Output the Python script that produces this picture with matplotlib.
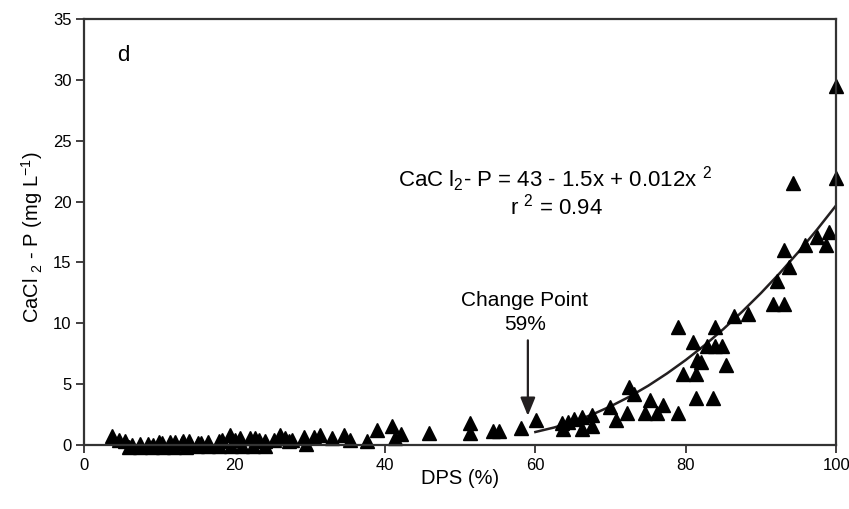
import matplotlib
matplotlib.use("Agg")
import matplotlib.pyplot as plt

plt.rcParams['font.family'] = ['Liberation Sans', 'DejaVu Sans']
plt.rcParams['mathtext.default'] = 'regular'

# Observed data (DPS %, CaCl2-P mg/L)
dps = [3.7, 4.6, 5.4, 6.4, 7.4, 8.5, 9.1, 9.9, 10.4, 11.4, 12.1, 13.0,
       13.2, 13.9, 15.2, 15.6, 16.5, 17.9, 18.3, 19.4, 20.1, 20.7, 22.1, 22.7,
       23.2, 24.1, 25.2, 26.1, 26.7, 27.2,
       6.0, 7.5, 9.0, 10.5, 12.0, 13.5, 15.0, 16.5, 18.0, 19.5, 21.0, 22.5, 24.0,
       27.6, 29.2, 29.5, 30.6, 31.4, 32.9, 34.6, 35.3, 37.6, 39.0, 40.9, 41.4,
       42.2, 45.8, 51.3, 51.3, 54.4, 55.2, 58.1, 60.1,
       63.5, 63.7, 64.4, 65.1, 66.2, 66.2, 67.5, 67.5, 69.9, 70.7, 72.2, 72.4,
       73.1, 74.6, 75.3, 76.2, 76.9, 78.9, 78.9, 79.6, 80.9, 81.3, 81.3, 81.5,
       82.0, 82.8, 83.6, 83.9, 83.9, 84.8, 85.3, 86.4, 88.3, 91.6, 92.1, 93.1,
       93.1, 93.7, 94.3, 95.9, 97.4, 98.7, 99.1, 99.9, 100.0]
cacl2_p = [0.70, 0.43, 0.37, 0.02, 0.05, 0.05, 0.00, 0.23, 0.15, 0.23, 0.23, 0.15,
           0.30, 0.34, 0.15, 0.15, 0.25, 0.34, 0.45, 0.84, 0.45, 0.60, 0.60, 0.60,
           0.45, 0.34, 0.45, 0.84, 0.60, 0.30,
           -0.15, -0.15, -0.15, -0.15, -0.15, -0.15, -0.12, -0.12, -0.10, -0.10,
           -0.08, -0.05, -0.05,
           0.40, 0.68, 0.05, 0.68, 0.82, 0.60, 0.80, 0.40, 0.30, 1.20, 1.60, 0.55,
           0.90, 0.95, 1.80, 0.95, 1.15, 1.15, 1.37, 2.05,
           1.80, 1.30, 1.90, 2.10, 2.30, 1.30, 2.50, 1.60, 3.10, 2.05, 2.60, 4.80,
           4.20, 2.60, 3.70, 2.60, 3.30, 2.60, 9.70, 5.80, 8.50, 5.80, 3.90, 7.00,
           6.80, 8.10, 3.90, 8.10, 9.70, 8.10, 6.60, 10.60, 10.80, 11.60, 13.50, 11.60,
           16.00, 14.60, 21.50, 16.40, 17.10, 16.40, 17.50, 21.90, 29.50]

# Fitted curve
curve_x = [60, 62.5, 65, 67.5, 70, 72.5, 75, 77.5, 80, 82.5, 85, 87.5,
           90, 92.5, 95, 97.5, 100]
curve_y = [1.07, 1.44, 1.91, 2.49, 3.18, 3.97, 4.87, 5.88, 6.99, 8.20, 9.53, 10.96,
           12.49, 14.13, 15.88, 17.74, 19.70]

x_ticks = [0, 20, 40, 60, 80, 100]
y_ticks = [0, 5, 10, 15, 20, 25, 30, 35]

fig = plt.figure(figsize=(8.49, 5.09), dpi=100)
ax = fig.add_axes([0.099, 0.1257, 0.886, 0.837])

ax.plot(dps, cacl2_p, linestyle='none', marker='^', markersize=9.6,
        color='black', clip_on=False, zorder=3)
ax.plot(curve_x, curve_y, color='#231f20', linewidth=1.8, zorder=2)

ax.set_xlim(0, 100)
ax.set_ylim(0, 35)
ax.set_xticks(x_ticks)
ax.set_yticks(y_ticks)
ax.tick_params(direction='out', length=6, width=1.2, labelsize=12,
               colors='#231f20', labelcolor='black', pad=3)
for s in ax.spines.values():
    s.set_linewidth(1.6)
    s.set_color('#333333')
    s.set_zorder(4)

ax.set_xlabel('DPS (%)', fontsize=14.5)
ax.xaxis.set_label_coords(0.5, -0.056)
ax.set_ylabel('CaCl $_{2}$ - P (mg L$^{-1}$)', fontsize=14.5)
ax.yaxis.set_label_coords(-0.052, 0.487)

ax.text(5.2, 32.0, 'd', fontsize=16, ha='center', va='center')
ax.text(62.6, 21.8, 'CaC l$_{2}$- P = 43 - 1.5x + 0.012x $^{2}$', fontsize=16,
        ha='center', va='center')
ax.text(62.8, 19.6, 'r $^{2}$ = 0.94', fontsize=16, ha='center', va='center')
ax.text(58.6, 11.9, 'Change Point', fontsize=15, ha='center', va='center')
ax.text(58.6, 9.9, '59%', fontsize=15, ha='center', va='center')
ax.annotate('', xy=(59.0, 2.4), xytext=(59.0, 8.6),
            arrowprops=dict(arrowstyle='-|>,head_length=1.1,head_width=0.45',
                            color='#231f20', lw=1.6, shrinkA=0, shrinkB=0))

fig.savefig('out.png', dpi=100)
